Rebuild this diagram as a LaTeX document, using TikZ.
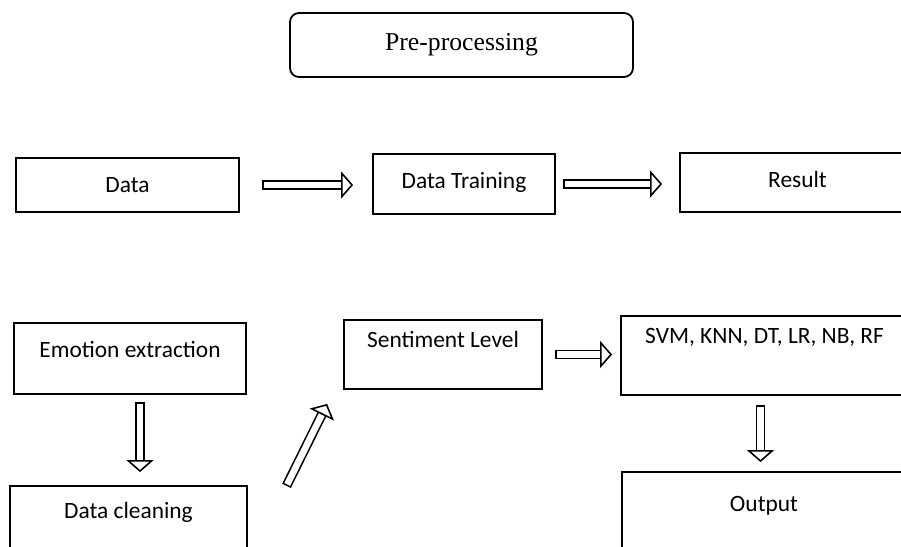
\documentclass[tikz,border=0pt]{standalone}
\usepackage{fontspec}
\setmainfont{Liberation Serif}
\newfontfamily\calibri{Carlito}
\usetikzlibrary{arrows.meta}

\begin{document}
\begin{tikzpicture}[x=1pt, y=-1pt,
    box/.style={draw, line width=1.8pt, inner sep=0pt, text height=17pt,
        font=\calibri\fontsize{23.4}{28}\selectfont},
    hollow/.style={double, double distance=6.5pt, line width=1.6pt, line cap=rect,
        -{Triangle[length=12pt, width=27pt, fill=white]}}]
    \useasboundingbox (0,0) rectangle (901,546);

    \node[draw, line width=1.8pt, rounded corners=9pt, minimum width=343pt, minimum height=64pt,
        font=\fontsize{25.7}{30}\selectfont] (pre) at (461.5,45) {Pre-processing};

    \node[box, minimum width=223pt, minimum height=54pt, text depth=2pt] (data) at (127.5,185) {Data};
    \node[box, minimum width=182pt, minimum height=60pt, text depth=9pt] (train) at (464,184) {Data Training};
    \node[box, minimum width=235pt, minimum height=59pt, text depth=7pt] (result) at (797.5,182.5) {Result};

    \node[box, minimum width=232pt, minimum height=71pt, text depth=19pt] (emo) at (130,358.5) {Emotion extraction};
    \node[box, minimum width=237pt, minimum height=80pt, text depth=32pt] (clean) at (128.5,526) {Data cleaning};
    \node[box, minimum width=198pt, minimum height=69pt, text depth=32pt] (senti) at (443,354.5) {Sentiment Level};
    \node[box, minimum width=287pt, minimum height=79pt, text depth=42pt] (svm) at (764.5,355.5) {SVM, KNN, DT, LR, NB, RF};
    \node[box, minimum width=284pt, minimum height=88pt, text depth=27pt] (out) at (764,516) {Output};

    \draw[hollow, shorten <=27pt, shorten >=19pt] (data.east) -- (data.east -| train.west);
    \draw[hollow, shorten <=12pt, shorten >=17pt] (train.east) -- (train.east -| result.west);
    \draw[hollow, shorten <=17pt, shorten >=8pt] (senti.east) -- (senti.east -| svm.west);
    \draw[hollow, shorten <=12pt, shorten >=13pt] ([xshift=10pt]emo.south) -- ([xshift=10pt]emo.south |- clean.north);
    \draw[hollow, shorten <=14pt, shorten >=9pt] ([xshift=-4pt]svm.south) -- ([xshift=-4pt]svm.south |- out.north);
    \draw[hollow, shorten <=4pt] ([xshift=39pt]clean.north east) -- ([shift={(-16,14)}]senti.south west);
\end{tikzpicture}
\end{document}
